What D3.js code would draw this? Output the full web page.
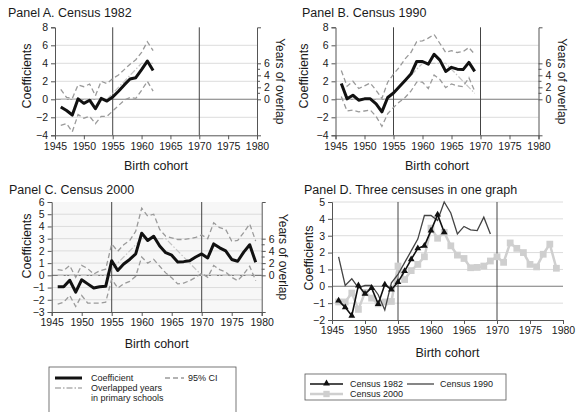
<!DOCTYPE html>
<html><head><meta charset="utf-8">
<script src="https://cdn.jsdelivr.net/npm/d3@7"></script>
<style>
body{margin:0;background:#fff}
svg{display:block;font-family:"Liberation Sans",Arial,Helvetica,sans-serif}
</style>
</head><body>
<svg id="c" width="576" height="412"></svg>
<script>
// ---------- DATA ----------
const cohorts1982 = [1946,1947,1948,1949,1950,1951,1952,1953,1954,1955,1956,1957,1958,1959,1960,1961,1962];
const coef1982 = [-0.85,-1.25,-1.75,0.05,-0.45,-0.1,-1.05,0.1,-0.2,0.25,0.9,1.6,2.25,2.4,3.3,4.25,3.2];
const hi1982   = [1.1,0.2,0.1,1.6,1.4,1.7,0.4,2.0,1.75,2.3,2.7,3.3,3.9,4.4,5.2,6.4,5.4];
const lo1982   = [-2.9,-2.7,-3.6,-1.7,-2.1,-1.9,-2.7,-1.9,-1.9,-1.3,-0.7,-0.1,0.2,0.1,1.0,2.0,0.9];

const cohorts1990 = [1946,1947,1948,1949,1950,1951,1952,1953,1954,1955,1956,1957,1958,1959,1960,1961,1962,1963,1964,1965,1966,1967,1968,1969];
const coef1990 = [1.75,0.05,0.45,-0.1,0.05,0.05,-0.5,-1.4,0.2,0.7,1.4,2.1,2.8,4.2,4.2,3.9,5.0,4.35,3.1,3.55,3.35,3.3,4.1,3.1];
const hi1990   = [3.2,1.45,2.0,1.2,1.5,1.8,1.0,0.1,1.9,2.8,3.55,4.5,5.2,6.4,6.5,6.8,7.2,6.2,5.2,5.4,5.2,5.3,5.75,5.0];
const lo1990   = [0.3,-1.3,-1.2,-1.4,-1.3,-1.2,-1.9,-3.0,-1.6,-0.9,-0.3,0.2,0.9,1.9,1.9,1.2,2.7,2.2,1.3,1.7,1.5,1.4,2.4,0.9];

const cohorts2000 = [1946,1947,1948,1949,1950,1951,1952,1953,1954,1955,1956,1957,1958,1959,1960,1961,1962,1963,1964,1965,1966,1967,1968,1969,1970,1971,1972,1973,1974,1975,1976,1977,1978,1979];
const coef2000 = [-0.93,-0.93,-0.4,-1.37,-0.36,-0.7,-1.04,-0.93,-0.9,1.2,0.4,0.93,1.3,1.75,3.45,2.85,3.2,2.4,1.85,1.65,1.1,1.12,1.2,1.5,1.75,1.42,2.57,2.25,2.0,1.3,1.15,1.9,2.5,1.07];
const hi2000   = [0.47,0.4,0.8,-0.16,0.82,0.55,0.1,0.38,0.5,2.57,1.97,2.5,2.85,3.6,5.5,4.85,5.0,3.75,3.2,3.07,2.93,2.93,3.0,3.1,3.3,3.0,4.3,3.9,3.75,2.8,2.85,3.5,4.2,2.8];
const lo2000   = [-2.35,-2.2,-1.65,-2.55,-1.65,-2.27,-2.27,-2.27,-2.2,-0.3,-1.04,-0.7,-0.5,-0.08,1.5,1.0,1.3,0.74,0.2,-0.2,-0.7,-0.63,-0.44,-0.16,0.16,-0.16,0.8,0.47,0.27,-0.16,-0.44,0.1,0.74,-0.44];

// years of overlap in primary schools, cohorts 1946..1979
const overlapYears = [0,0,0,0,0,0,0,0,0,1,2,3,4,5,6,6,6,6,6,5,4,3,2,1,0,0,0,0,0,0,0,0,0,0];

const xTickValues = [1945,1950,1955,1960,1965,1970,1975,1980];
const overlapTicks = [0,2,4,6];
const overlapMinor = [1,3,5];
const panelTitles = ["Panel A. Census 1982","Panel B. Census 1990","Panel C. Census 2000","Panel D. Three censuses in one graph"];
const legendLeft = ["Coefficient","95% CI","Overlapped years","in primary schools"];
const legendRight = ["Census 1982","Census 1990","Census 2000"];

// ---------- DRAW ----------
const svg = d3.select("#c");
const minus = d => (d < 0 ? "\u2212" + Math.abs(d) : String(d));
const AX = "#555";

function axisStyle(g){
  g.selectAll("path.domain").attr("stroke", AX).attr("stroke-width", 1);
  g.selectAll(".tick line").attr("stroke", AX);
  g.selectAll(".tick text").attr("fill", "#1a1a1a").attr("font-size", 10.5);
  g.attr("font-family", null);
}

function panel(p){
  const x = d3.scaleLinear().domain([1945,1980]).range([p.left,p.right]);
  const y = d3.scaleLinear().domain(p.yDom).range([p.bottom,p.top]);
  const g = svg.append("g");
  if (p.bg) g.append("rect").attr("x",p.left).attr("y",p.top).attr("width",p.right-p.left).attr("height",p.bottom-p.top).attr("fill",p.bg);
  g.selectAll("line.grid").data(p.grid).join("line")
    .attr("x1",p.left).attr("x2",p.right)
    .attr("y1",d=>y(d)).attr("y2",d=>y(d))
    .attr("stroke",d=>d===0?"#7a7a7a":"#dcdcdc").attr("stroke-width",d=>d===0?1.1:1);
  g.selectAll("line.v").data([1955,1970]).join("line")
    .attr("x1",d=>x(d)).attr("x2",d=>x(d)).attr("y1",p.top).attr("y2",p.bottom)
    .attr("stroke","#444").attr("stroke-width",1);
  const la = g.append("g").attr("transform",`translate(${p.left},0)`)
    .call(d3.axisLeft(y).tickValues(p.yTicks).tickSize(4).tickPadding(3).tickFormat(minus));
  axisStyle(la);
  const ba = g.append("g").attr("transform",`translate(0,${p.bottom})`)
    .call(d3.axisBottom(x).tickValues(xTickValues).tickSize(4).tickPadding(3).tickFormat(d3.format("d")));
  axisStyle(ba);
  if (p.rightAxis){
    const yr = d3.scaleLinear().domain([-6,12]).range([p.bottom,p.top]);
    const ra = g.append("g").attr("transform",`translate(${p.right},0)`)
      .call(d3.axisRight(yr).tickValues(overlapTicks).tickSize(4).tickSizeOuter(4).tickPadding(3));
    axisStyle(ra);
    ra.selectAll("line.minor").data(overlapMinor).join("line")
      .attr("x1",0).attr("x2",3).attr("y1",d=>yr(d)).attr("y2",d=>yr(d)).attr("stroke",AX);
    g.append("text").attr("transform",`translate(${p.rLabelX},${(p.top+p.bottom)/2}) rotate(90)`)
      .attr("text-anchor","middle").attr("dy","0.35em").attr("font-size",12).attr("fill","#1a1a1a").text("Years of overlap");
    if (p.cohorts){
      const first = cohorts2000.indexOf(p.cohorts[0]);
      const ov = p.cohorts.map((c,i)=>[c, overlapYears[first+i]]);
      g.append("path").datum(ov)
        .attr("d", d3.line().x(d=>x(d[0])).y(d=>yr(d[1])))
        .attr("fill","none").attr("stroke","#c4c4c4").attr("stroke-width",1.2)
        .attr("stroke-dasharray","6,2,1.5,2");
    }
  }
  g.append("text").attr("x",p.titleX).attr("y",p.titleY).attr("font-size",12.5).attr("fill","#1a1a1a").text(p.title);
  g.append("text").attr("transform",`translate(${p.lLabelX},${p.lLabelY}) rotate(-90)`)
    .attr("text-anchor","middle").attr("dy","0.35em").attr("font-size",12.5).attr("fill","#1a1a1a").text("Coefficients");
  g.append("text").attr("x",(p.left+p.right)/2).attr("y",p.xLabelY).attr("text-anchor","middle")
    .attr("font-size",12.5).attr("fill","#1a1a1a").text("Birth cohort");
  if (p.coef){
    const line = d3.line().x(d=>x(d[0])).y(d=>y(d[1]));
    const z = (a)=>p.cohorts.map((c,i)=>[c,a[i]]);
    [p.hi,p.lo].forEach(arr=>{
      g.append("path").datum(z(arr)).attr("d",line).attr("fill","none")
        .attr("stroke","#9a9a9a").attr("stroke-width",1.3).attr("stroke-dasharray","5,3");
    });
    g.append("path").datum(z(p.coef)).attr("d",line).attr("fill","none")
      .attr("stroke","#111").attr("stroke-width",3).attr("stroke-linejoin","round");
  }
  return {x,y,g};
}

panel({left:55,right:257,top:27.3,bottom:135.3,yDom:[-4,8],yTicks:[-4,-2,0,2,4,6,8],grid:[-2,0,2,4,6],
  rightAxis:true,rLabelX:280,title:panelTitles[0],titleX:8,titleY:17,lLabelX:27,lLabelY:76,xLabelY:170,
  cohorts:cohorts1982,coef:coef1982,hi:hi1982,lo:lo1982});
panel({left:335.5,right:538.5,top:27.3,bottom:135.3,yDom:[-4,8],yTicks:[-4,-2,0,2,4,6,8],grid:[-2,0,2,4,6],
  rightAxis:true,rLabelX:562,title:panelTitles[1],titleX:302,titleY:17,lLabelX:304,lLabelY:76,xLabelY:170,
  cohorts:cohorts1990,coef:coef1990,hi:hi1990,lo:lo1990});
panel({left:51.7,right:261.7,top:202,bottom:312,yDom:[-3,6],yTicks:[-3,-2,-1,0,1,2,3,4,5,6],grid:[-2,-1,0,1,2,3,4,5],
  bg:"#f7f7f7",rightAxis:true,rLabelX:283,title:panelTitles[2],titleX:9,titleY:194,lLabelX:27,lLabelY:246,xLabelY:348,
  cohorts:cohorts2000,coef:coef2000,hi:hi2000,lo:lo2000});
const D = panel({left:332,right:563,top:202,bottom:320,yDom:[-2,5],yTicks:[-2,-1,0,1,2,3,4,5],grid:[-1,0,1,2,3,4,5],
  rightAxis:false,title:panelTitles[3],titleX:304,titleY:194,lLabelX:309,lLabelY:258,xLabelY:357});
{
  const {x,y,g} = D;
  const line = d3.line().x(d=>x(d[0])).y(d=>y(d[1]));
  const z = (c,a)=>c.map((v,i)=>[v,a[i]]);
  const d00 = z(cohorts2000,coef2000), d90 = z(cohorts1990,coef1990), d82 = z(cohorts1982,coef1982);
  g.append("path").datum(d00).attr("d",line).attr("fill","none").attr("stroke","#cfcfcf").attr("stroke-width",2.5);
  g.selectAll("path.sq").data(d00).join("path").attr("transform",d=>`translate(${x(d[0])},${y(d[1])})`)
    .attr("d",d3.symbol(d3.symbolSquare,46)).attr("fill","#cfcfcf");
  g.append("path").datum(d90).attr("d",line).attr("fill","none").attr("stroke","#444").attr("stroke-width",1.3);
  g.append("path").datum(d82).attr("d",line).attr("fill","none").attr("stroke","#111").attr("stroke-width",1.6);
  g.selectAll("path.tr").data(d82).join("path").attr("transform",d=>`translate(${x(d[0])},${y(d[1])})`)
    .attr("d",d3.symbol(d3.symbolTriangle,20)).attr("fill","#111");
}

// ---------- LEGENDS ----------
{
  const L = svg.append("g");
  L.append("rect").attr("x",49).attr("y",367).attr("width",187).attr("height",60).attr("fill","none").attr("stroke","#555").attr("stroke-width",0.8);
  L.append("line").attr("x1",55).attr("x2",82).attr("y1",378).attr("y2",378).attr("stroke","#111").attr("stroke-width",3);
  L.append("line").attr("x1",165).attr("x2",184).attr("y1",378).attr("y2",378).attr("stroke","#9a9a9a").attr("stroke-width",1.3).attr("stroke-dasharray","5,3");
  L.append("line").attr("x1",55).attr("x2",82).attr("y1",388).attr("y2",388).attr("stroke","#b0b0b0").attr("stroke-width",1.3).attr("stroke-dasharray","6,2,1.5,2");
  const t = (xx,yy,s)=>L.append("text").attr("x",xx).attr("y",yy).attr("dy","0.35em").attr("font-size",9).attr("fill","#1a1a1a").text(s);
  t(91,378,legendLeft[0]); t(188,378,legendLeft[1]); t(91,388,legendLeft[2]); t(91,397.5,legendLeft[3]);

  const R = svg.append("g");
  R.append("rect").attr("x",305).attr("y",374).attr("width",201).attr("height",26).attr("fill","none").attr("stroke","#555").attr("stroke-width",0.8);
  R.append("line").attr("x1",310).attr("x2",343).attr("y1",384).attr("y2",384).attr("stroke","#111").attr("stroke-width",1.6);
  R.append("path").attr("transform","translate(326.5,383.5)").attr("d",d3.symbol(d3.symbolTriangle,20)).attr("fill","#111");
  R.append("line").attr("x1",407).attr("x2",434).attr("y1",384).attr("y2",384).attr("stroke","#444").attr("stroke-width",1.3);
  R.append("line").attr("x1",310).attr("x2",343).attr("y1",394).attr("y2",394).attr("stroke","#cfcfcf").attr("stroke-width",2.5);
  R.append("path").attr("transform","translate(326.5,394)").attr("d",d3.symbol(d3.symbolSquare,40)).attr("fill","#cfcfcf");
  const u = (xx,yy,s)=>R.append("text").attr("x",xx).attr("y",yy).attr("dy","0.35em").attr("font-size",9).attr("fill","#1a1a1a").text(s);
  u(350,384,legendRight[0]); u(440,384,legendRight[1]); u(350,394,legendRight[2]);
}
</script>
</body></html>
